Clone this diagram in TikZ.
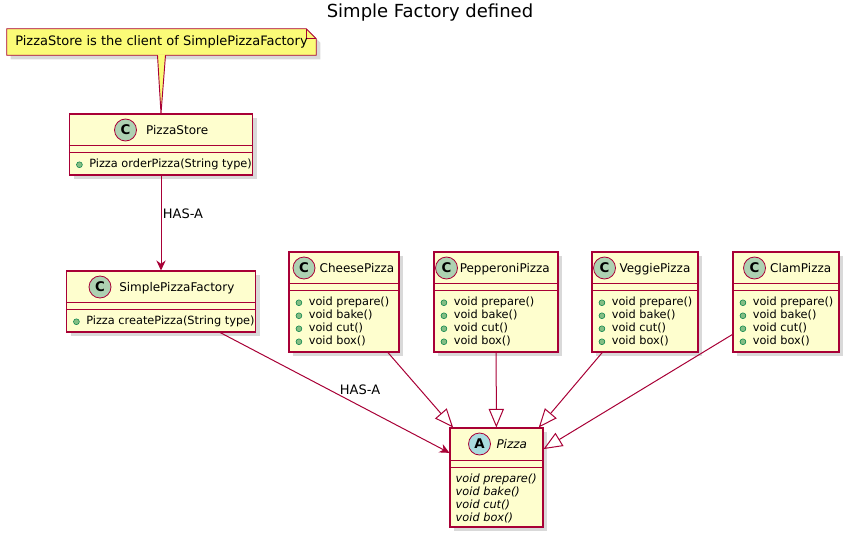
\documentclass[tikz,border=0pt]{standalone}
\usepackage{fontspec}
\setmainfont{DejaVu Sans}
\usepackage{xcolor}
\definecolor{umlred}{RGB}{168,0,54}
\definecolor{umlfill}{RGB}{254,254,206}
\definecolor{notefill}{RGB}{251,251,119}
\definecolor{spotgreen}{RGB}{173,209,178}
\definecolor{spotblue}{RGB}{169,220,223}
\definecolor{pubfill}{RGB}{132,190,132}
\definecolor{pubdraw}{RGB}{3,128,72}
\usetikzlibrary{positioning,arrows.meta,calc,shadows,backgrounds}
\newcommand{\pub}{\tikz[baseline=-0.5ex]\filldraw[draw=pubdraw,fill=pubfill,line width=0.4pt] (0,0) circle (2.2pt);\hspace{5pt}}
\tikzset{
  wpx/.style     ={minimum width=(#1)*0.75pt},
  hpx/.style     ={minimum height=(#1)*0.75pt},
  cls/.style     ={rectangle,draw=umlred,fill=umlfill,line width=0.8pt,inner sep=0pt,
                   drop shadow={shadow xshift=3pt,shadow yshift=-3pt,opacity=0.3}},
  clsname/.style ={inner sep=0pt,text height=6.6pt,text depth=0pt,font=\fontsize{9}{11}\selectfont},
  spot/.style    ={circle,draw=umlred,line width=0.6pt,minimum size=16.5pt,inner sep=0pt,
                   font=\fontsize{10}{12}\selectfont\bfseries},
  members/.style ={inner sep=0pt,align=left,anchor=north west,font=\fontsize{8.5}{9.75}\selectfont},
  sep/.style     ={draw=umlred,line width=0.8pt},
  notebox/.style ={draw=umlred,fill=notefill,line width=0.7pt},
  notetext/.style={inner sep=0pt,minimum width=231.75pt,minimum height=19.5pt,font=\fontsize{9.75}{11}\selectfont},
  title/.style   ={inner sep=0pt,font=\fontsize{13.5}{16}\selectfont},
  lbl/.style     ={inner sep=0pt,font=\fontsize{9.75}{11}\selectfont},
  link/.style    ={draw=umlred,line width=0.75pt},
  hasa/.style    ={link,-{Stealth[length=7.5pt,width=7pt,inset=2.5pt]}},
  isa/.style     ={link,-{Triangle[open,length=14pt,width=11.5pt]}},
}
\begin{document}
\begin{tikzpicture}[x=0.75pt,y=-0.75pt]
  \useasboundingbox (0,0) rectangle (848,538);
  \node[title,anchor=base] (title) at (430,17.5) {Simple Factory defined};

  % note on PizzaStore
  \node[notetext] (note) at (161.5,42) {PizzaStore is the client of SimplePizzaFactory};

  % PizzaStore
  \node[cls,wpx=183,hpx=61] (pstore) at (161,144.5) {};
  \node[spot,fill=spotgreen] (pstore-s) at (125.5,130) {C};
  \node[clsname,right=6.75pt of pstore-s] (pstore-n) {PizzaStore};
  \draw[sep] ($(pstore.north west)+(0,32)$) -- ($(pstore.north east)+(0,32)$);
  \draw[sep] ($(pstore.north west)+(0,39)$) -- ($(pstore.north east)+(0,39)$);
  \node[members] (pstore-m) at ($(pstore.north west)+(7,45.5)$) {\pub Pizza orderPizza(String type)};

  \begin{scope}[on background layer]
    \filldraw[notebox,drop shadow={shadow xshift=3pt,shadow yshift=-3pt,opacity=0.3}]
      (note.south west) -- (note.north west) -- ([xshift=-7.5pt]note.north east)
      -- ([yshift=-7.5pt]note.north east) -- (note.south east) -- cycle;
    \draw[umlred,line width=0.7pt] ([xshift=-7.5pt]note.north east) |- ([yshift=-7.5pt]note.north east);
    \fill[notefill] ($(note.south)+(-4,-1)$) -- (pstore.north) -- ($(note.south)+(4,-1)$) -- cycle;
    \draw[umlred,line width=0.7pt] ($(note.south)+(-4,0)$) -- (pstore.north) -- ($(note.south)+(4,0)$);
  \end{scope}

  % SimplePizzaFactory
  \node[cls,wpx=189,hpx=61] (spf) at (161,301.5) {};
  \node[spot,fill=spotgreen] (spf-s) at (100,287) {C};
  \node[clsname,right=5.7pt of spf-s] (spf-n) {SimplePizzaFactory};
  \draw[sep] ($(spf.north west)+(0,32)$) -- ($(spf.north east)+(0,32)$);
  \draw[sep] ($(spf.north west)+(0,39)$) -- ($(spf.north east)+(0,39)$);
  \node[members] (spf-m) at ($(spf.north west)+(7,45.5)$) {\pub Pizza createPizza(String type)};

  % concrete pizzas
  \foreach \n/\nm/\xl/\xr/\sx/\gap in {cheese/CheesePizza/289/399/304/3,
      pepperoni/PepperoniPizza/434/558/446.5/1.2, veggie/VeggiePizza/592/698/604.5/2.5,
      clam/ClamPizza/733/839/754.5/3}{
    \node[cls,wpx={\xr-\xl},hpx=100] (\n) at ({(\xl+\xr)/2},302) {};
    \node[spot,fill=spotgreen] (\n-s) at (\sx,268) {C};
    \node[clsname,right=\gap pt of \n-s] (\n-n) {\nm};
    \draw[sep] ($(\n.north west)+(0,32)$) -- ($(\n.north east)+(0,32)$);
    \draw[sep] ($(\n.north west)+(0,39)$) -- ($(\n.north east)+(0,39)$);
    \node[members] (\n-m) at ($(\n.north west)+(7,45.5)$)
      {\pub void prepare()\\\pub void bake()\\\pub void cut()\\\pub void box()};
  }

  % Pizza
  \node[cls,wpx=93,hpx=99] (pizza) at (496.5,477.5) {};
  \node[spot,fill=spotblue] (pizza-s) at (479.5,444) {A};
  \node[clsname,right=4pt of pizza-s,font=\fontsize{9}{11}\selectfont\itshape] (pizza-n) {Pizza};
  \draw[sep] ($(pizza.north west)+(0,33)$) -- ($(pizza.north east)+(0,33)$);
  \draw[sep] ($(pizza.north west)+(0,40)$) -- ($(pizza.north east)+(0,40)$);
  \node[members,font=\fontsize{8.5}{9.75}\selectfont\itshape] (pizza-m) at ($(pizza.north west)+(6,46.5)$)
    {void prepare()\\void bake()\\void cut()\\void box()};

  \draw[hasa] (pstore) -- node[lbl,right=1pt,pos=0.4] (has1) {HAS-A} (spf);
  \draw[hasa] (spf) -- node[lbl,above=8pt,pos=0.61] (has2) {HAS-A} (pizza);
  \foreach \n in {cheese,pepperoni,veggie,clam}
    \draw[isa] (\n) -- (pizza);
\end{tikzpicture}
\end{document}
